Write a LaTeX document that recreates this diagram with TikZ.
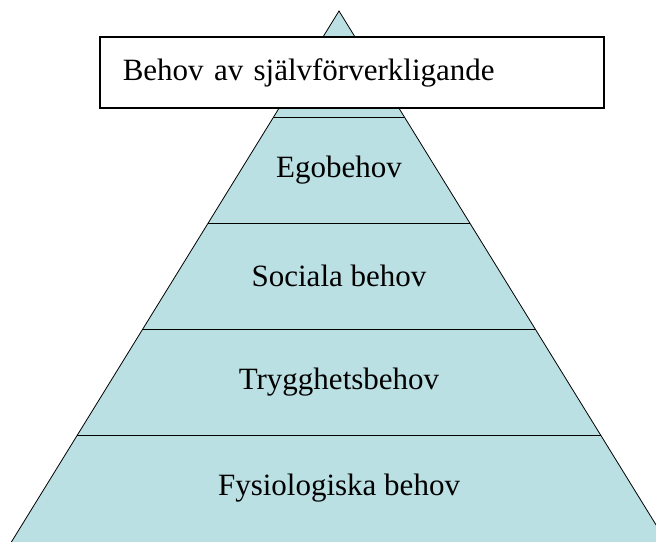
\documentclass[tikz,border=0pt]{standalone}
\usepackage{fontspec}
\setmainfont{Liberation Serif}
\usepackage{tikz}
\usetikzlibrary{calc, positioning}
\usepackage{xcolor}
\definecolor{pyrblue}{HTML}{BBE0E3}

\begin{document}
\begin{tikzpicture}[
  x=1pt, y=-1pt,
  level/.style={font=\fontsize{31}{37}\selectfont},
  topbox/.style={draw, line width=1.5pt, fill=white, minimum height=71pt,
    inner xsep=23pt, text width=458pt, align=left,
    font=\fontsize{31}{37}\selectfont}
]
  \useasboundingbox (0,0) rectangle (656,541);
  \clip (0,0) rectangle (656,541);

  % Pyramid (base lies just below the page edge)
  \coordinate (apex) at (339, 11);
  \coordinate (bl) at (12, 541);
  \coordinate (br) at (666, 541);
  \draw[fill=pyrblue, line width=0.8pt] (apex) -- ($(apex)!1.03!(bl)$)
    -- ($(apex)!1.03!(br)$) -- cycle;

  % Dividing lines
  \foreach \t in {0.2, 0.4, 0.6, 0.8} {
    \draw[line width=0.8pt] ($(apex)!\t!(bl)$) -- ($(apex)!\t!(br)$);
  }

  % Labels
  \foreach \y/\name/\txt in {170/ego/Egobehov, 276/soc/Sociala behov,
      382/tryg/Trygghetsbehov, 488/fys/Fysiologiska behov} {
    \node[level] (\name) at (339, \y) {\txt};
  }

  % Top box
  \node[topbox, anchor=west] (self) at (99, 72.5) {Behov av självförverkligande};
\end{tikzpicture}
\end{document}
